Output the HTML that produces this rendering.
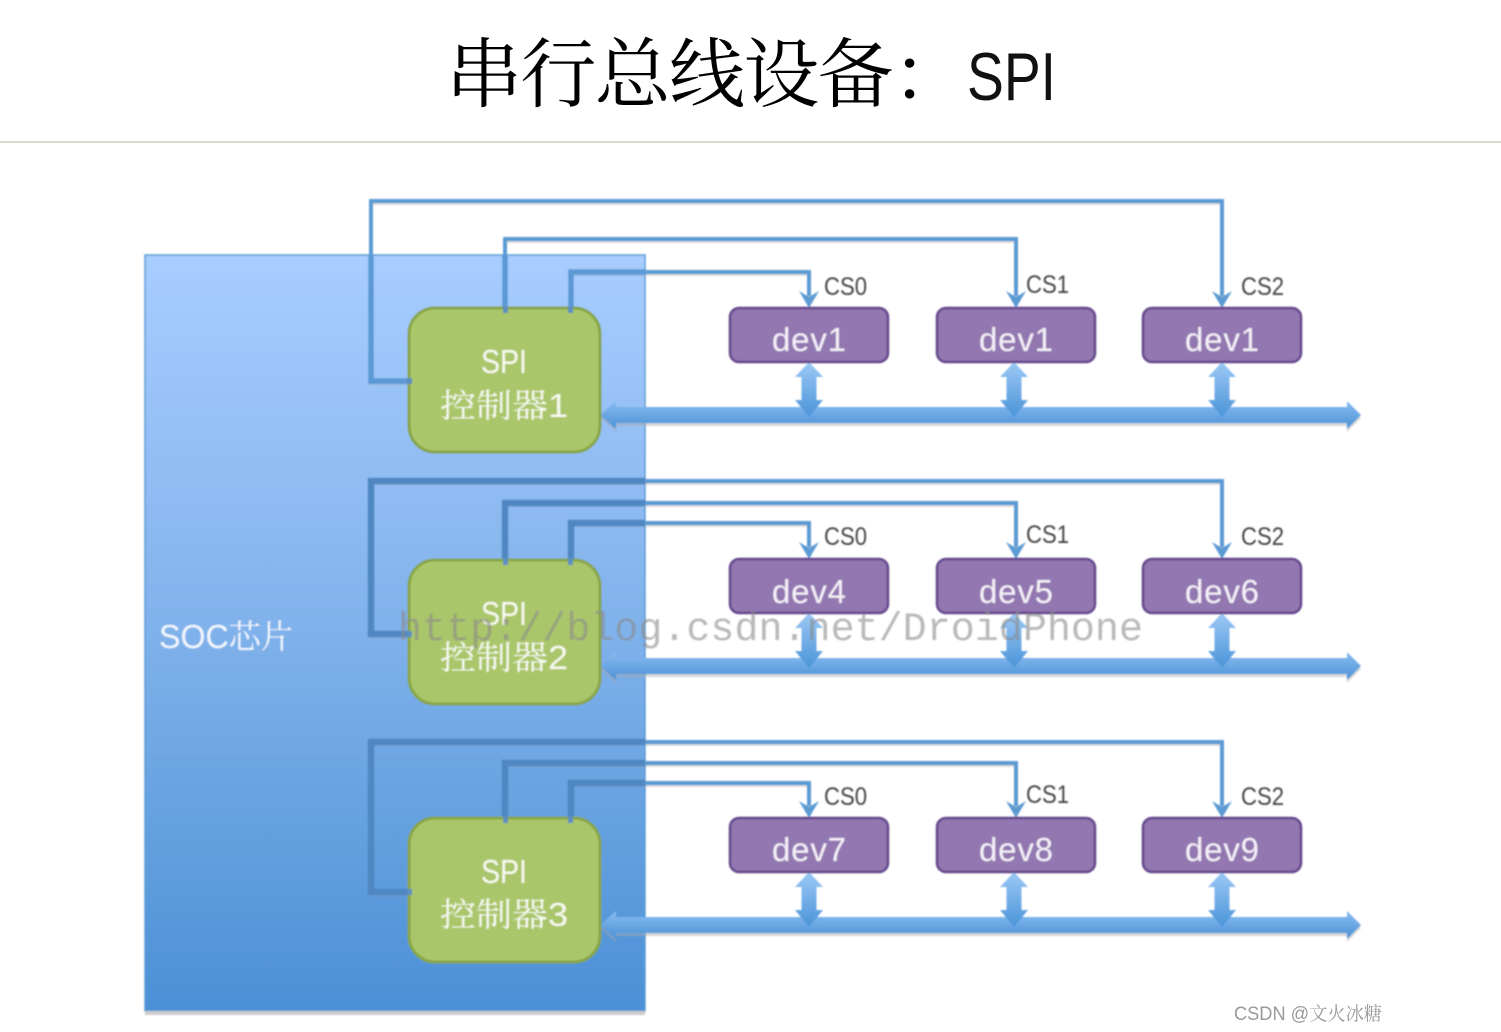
<!DOCTYPE html>
<html><head><meta charset="utf-8"><style>
html,body{margin:0;padding:0;background:#fff}
svg{display:block}
text{font-family:"Liberation Sans","Noto Serif CJK SC",sans-serif}
</style></head><body>
<svg width="1501" height="1032" viewBox="0 0 1501 1032" xmlns="http://www.w3.org/2000/svg">
<defs>
<linearGradient id="soc" x1="0" y1="0" x2="0" y2="1"><stop offset="0" stop-color="#a8cdff"/><stop offset="0.5" stop-color="#7fb1ea"/><stop offset="1" stop-color="#4b90d6"/></linearGradient>
<linearGradient id="bus" x1="0" y1="0" x2="0" y2="1"><stop offset="0" stop-color="#8abbf0"/><stop offset="1" stop-color="#4a92d6"/></linearGradient>
<linearGradient id="vbus" x1="0" y1="0" x2="0" y2="1"><stop offset="0" stop-color="#9cc8f5"/><stop offset="1" stop-color="#4a94d8"/></linearGradient>
<filter id="b" x="-5%" y="-5%" width="110%" height="110%"><feGaussianBlur stdDeviation="0.75"/></filter>
<clipPath id="socclip"><rect x="145" y="255" width="500" height="756"/></clipPath>
<g id="r1"><path d="M410 381H371V201H1222V296"/><path d="M505 310V239H1016V296"/><path d="M571 310V272H809V296"/></g>
<g id="r23">
<path d="M410 634H371V481H1222V547"/><path d="M505 561V503H1016V547"/><path d="M571 561V523H809V547"/>
<path d="M410 892H371V742H1222V806"/><path d="M505 820V763H1016V806"/><path d="M571 820V783H809V806"/>
</g>
<path id="va" d="M0 0L14 15H7.5V38H14L0 55L-14 38H-7.5V15H-14Z"/>
<path id="ha" d="M600 15L616 1V7H1347V1L1361 15L1347 29V23H616V29Z"/>
<path id="sa" d="M-10 -15L0 -9L10 -15L0 2Z"/>
</defs>
<text x="446" y="101" font-size="76" fill="#000" style="font-family:'Noto Serif CJK SC',serif;font-weight:400" textLength="522" lengthAdjust="spacing">串行总线设备：</text>
<text x="967" y="100" font-size="68" fill="#111" textLength="89" lengthAdjust="spacingAndGlyphs">SPI</text>
<rect x="0" y="141" width="1501" height="2" fill="#dcd9c6"/>
<g filter="url(#b)">
<rect x="145" y="255" width="500" height="756" fill="url(#soc)" stroke="#5b9bd5" stroke-width="1.5"/>
<rect x="145" y="1011" width="500" height="4" fill="#ccc"/>
<text x="159" y="648" font-size="33" fill="#f2f7fd" textLength="134" lengthAdjust="spacingAndGlyphs">SOC芯片</text>

<!-- shadow + connectors -->
<g fill="none" stroke="#999" stroke-opacity="0.35" stroke-width="4" transform="translate(0,2)"><use href="#r1"/><use href="#r23"/></g>
<g fill="none" stroke="#5b9ad3" stroke-width="4"><use href="#r1"/><use href="#r23"/></g>
<g clip-path="url(#socclip)" fill="none">
<use href="#r1" stroke="#5a98d6" stroke-width="5.5"/>
<use href="#r23" stroke="#4f87c2" stroke-width="6.5"/>
</g>
<g fill="#5b9ad3">
<use href="#sa" x="809" y="306"/><use href="#sa" x="1016" y="306"/><use href="#sa" x="1222" y="306"/>
<use href="#sa" x="809" y="557"/><use href="#sa" x="1016" y="557"/><use href="#sa" x="1222" y="557"/>
<use href="#sa" x="809" y="816"/><use href="#sa" x="1016" y="816"/><use href="#sa" x="1222" y="816"/>
</g>

<!-- buses -->
<g fill="#a9a9a9" fill-opacity="0.45">
<use href="#ha" y="403"/><use href="#ha" y="654"/><use href="#ha" y="913"/>
</g>
<g fill="url(#bus)">
<use href="#ha" y="400"/><use href="#ha" y="651"/><use href="#ha" y="910"/>
</g>
<g fill="url(#vbus)">
<use href="#va" x="809" y="362"/><use href="#va" x="1014" y="362"/><use href="#va" x="1222" y="362"/>
<use href="#va" x="809" y="613"/><use href="#va" x="1014" y="613"/><use href="#va" x="1222" y="613"/>
<use href="#va" x="809" y="872"/><use href="#va" x="1014" y="872"/><use href="#va" x="1222" y="872"/>
</g>

<!-- controllers -->
<g fill="#aac66a" stroke="#87a544" stroke-width="3">
<rect x="409" y="308" width="191" height="144" rx="26"/>
<rect x="409" y="560" width="191" height="144" rx="26"/>
<rect x="409" y="818" width="191" height="144" rx="26"/>
</g>
<g fill="#5b8fbf">
<rect x="503" y="306" width="5" height="7"/><rect x="568" y="306" width="5" height="7"/><rect x="407" y="378" width="5" height="6"/>
<rect x="503" y="558" width="5" height="7"/><rect x="568" y="558" width="5" height="7"/><rect x="407" y="631" width="5" height="6"/>
<rect x="503" y="816" width="5" height="7"/><rect x="568" y="816" width="5" height="7"/><rect x="407" y="889" width="5" height="6"/>
</g>
<g fill="#f6f9ee" font-size="33" text-anchor="middle">
<text x="504" y="373" textLength="46" lengthAdjust="spacingAndGlyphs">SPI</text>
<text x="504" y="417" textLength="128" lengthAdjust="spacingAndGlyphs">控制器1</text>
<text x="504" y="625" textLength="46" lengthAdjust="spacingAndGlyphs">SPI</text>
<text x="504" y="669" textLength="128" lengthAdjust="spacingAndGlyphs">控制器2</text>
<text x="504" y="883" textLength="46" lengthAdjust="spacingAndGlyphs">SPI</text>
<text x="504" y="926" textLength="128" lengthAdjust="spacingAndGlyphs">控制器3</text>
</g>

<!-- devices -->
<g fill="#9277b0" stroke="#65468c" stroke-width="2.5">
<rect x="730" y="308" width="158" height="54" rx="9"/><rect x="937" y="308" width="158" height="54" rx="9"/><rect x="1143" y="308" width="158" height="54" rx="9"/>
<rect x="730" y="559" width="158" height="54" rx="9"/><rect x="937" y="559" width="158" height="54" rx="9"/><rect x="1143" y="559" width="158" height="54" rx="9"/>
<rect x="730" y="818" width="158" height="54" rx="9"/><rect x="937" y="818" width="158" height="54" rx="9"/><rect x="1143" y="818" width="158" height="54" rx="9"/>
</g>
<g fill="#f4f0f8" font-size="33" text-anchor="middle">
<text x="809" y="351" textLength="74">dev1</text><text x="1016" y="351" textLength="74">dev1</text><text x="1222" y="351" textLength="74">dev1</text>
<text x="809" y="603" textLength="74">dev4</text><text x="1016" y="603" textLength="74">dev5</text><text x="1222" y="603" textLength="74">dev6</text>
<text x="809" y="861" textLength="74">dev7</text><text x="1016" y="861" textLength="74">dev8</text><text x="1222" y="861" textLength="74">dev9</text>
</g>
<g fill="#444" font-size="25">
<text x="824" y="295" textLength="43" lengthAdjust="spacingAndGlyphs">CS0</text><text x="1026" y="293" textLength="43" lengthAdjust="spacingAndGlyphs">CS1</text><text x="1241" y="295" textLength="43" lengthAdjust="spacingAndGlyphs">CS2</text>
<text x="824" y="545" textLength="43" lengthAdjust="spacingAndGlyphs">CS0</text><text x="1026" y="543" textLength="43" lengthAdjust="spacingAndGlyphs">CS1</text><text x="1241" y="545" textLength="43" lengthAdjust="spacingAndGlyphs">CS2</text>
<text x="824" y="805" textLength="43" lengthAdjust="spacingAndGlyphs">CS0</text><text x="1026" y="803" textLength="43" lengthAdjust="spacingAndGlyphs">CS1</text><text x="1241" y="805" textLength="43" lengthAdjust="spacingAndGlyphs">CS2</text>
</g>
<text x="398" y="640" font-size="40" fill="#8a8a8a" fill-opacity="0.6" style="font-family:'Liberation Mono',monospace" textLength="745" lengthAdjust="spacingAndGlyphs">http://blog.csdn.net/DroidPhone</text>
</g>
<text x="1234" y="1020" font-size="19" fill="#9a9a9a" textLength="148" lengthAdjust="spacingAndGlyphs">CSDN @文火冰糖</text>
</svg>
</body></html>
